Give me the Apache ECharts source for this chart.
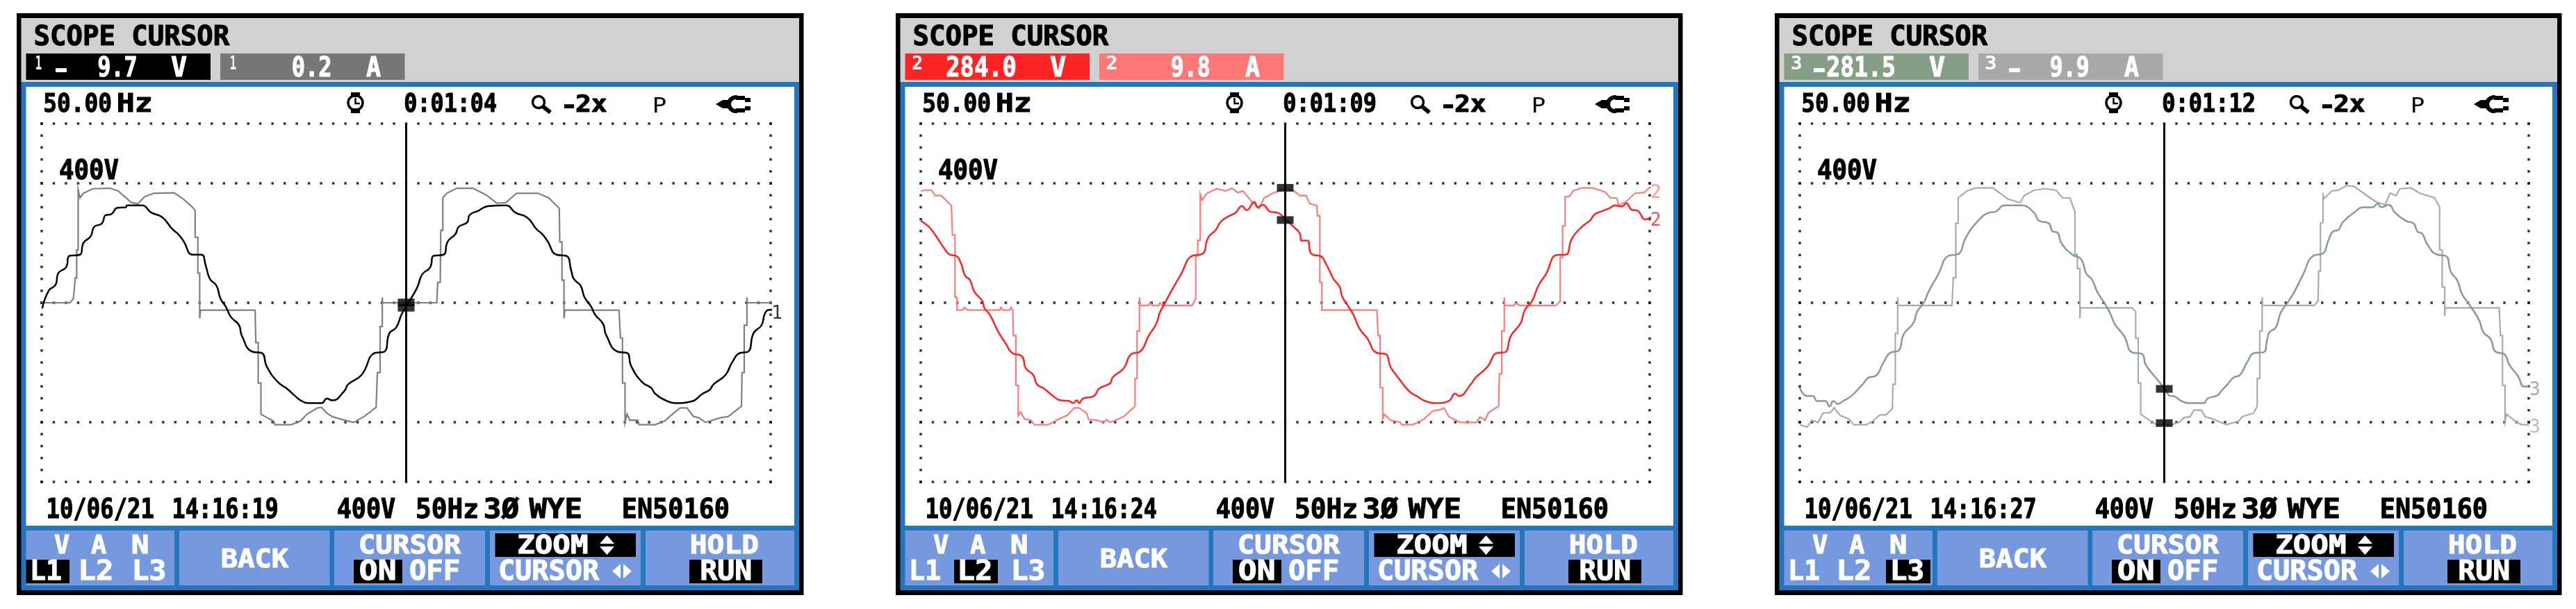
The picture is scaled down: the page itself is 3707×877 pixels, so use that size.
<!DOCTYPE html>
<html><head><meta charset="utf-8">
<style>html,body{margin:0;padding:0;background:#fff}#c{width:3707px;height:877px}</style>
<script src="https://cdn.jsdelivr.net/npm/echarts@6/dist/echarts.min.js"></script>
</head><body><div id="c"></div>
<script>
// time in ms, voltage in V, current in A
const l1Voltage=[[0.03,-19],[0.39,41],[0.76,60],[0.91,99],[1.34,119],[1.52,157],[2.10,161],[2.29,200],[2.69,223],[2.88,254],[3.31,266],[3.50,293],[3.82,297],[4.15,318],[4.63,320],[4.67,326],[5.50,326],[6.01,302],[6.60,287],[7.18,246],[7.47,231],[7.77,208],[8.28,161],[8.76,161],[9.01,122],[9.23,80],[9.59,57],[9.81,14],[10.10,-13],[10.39,-48],[10.83,-75],[10.98,-110],[11.56,-164],[12.07,-168],[12.36,-215],[12.95,-265],[13.46,-288],[13.90,-312],[14.26,-329],[14.70,-336],[15.36,-336],[15.65,-321],[15.94,-327],[16.60,-296],[16.82,-273],[17.55,-242],[18.28,-168],[18.79,-164],[19.08,-102],[19.45,-83],[19.74,-40],[20.03,-9],[20.59,49],[20.88,95],[21.32,119],[21.50,157],[22.05,161],[22.27,204],[22.71,231],[22.88,254],[23.36,270],[23.47,293],[23.95,308],[24.53,324],[25.48,326],[25.99,302],[26.65,285],[27.16,246],[27.45,231],[27.74,208],[28.25,161],[28.79,157],[29.06,107],[29.20,80],[29.57,57],[29.79,18],[30.15,-13],[30.37,-40],[30.81,-71],[30.96,-106],[31.61,-164],[32.12,-168],[32.34,-211],[32.93,-265],[33.44,-285],[33.66,-304],[34.24,-327],[34.75,-336],[35.63,-331],[36.28,-304],[36.65,-292],[36.87,-273],[37.52,-242],[37.89,-199],[38.33,-168],[38.76,-164],[39.06,-102],[39.50,-75],[39.71,-33],[40.01,-23],[40.41,-25]];
const l1Current=[[0,0],[1.56,0],[1.74,0.35],[1.84,2.09],[1.92,2.09],[1.92,4.42],[2.0,4.42],[2.0,9.46],[2.10,8.78],[2.29,9.17],[2.80,9.55],[3.75,9.59],[4.19,9.36],[4.92,8.39],[5.28,8.29],[5.65,8.88],[6.16,9.17],[7.26,9.21],[7.77,8.68],[8.28,8.0],[8.42,7.71],[8.42,5.48],[8.57,5.48],[8.57,2.48],[8.67,2.48],[8.67,-1.30],[8.72,-0.62],[11.71,-0.62],[11.75,-3.33],[11.88,-3.33],[11.88,-6.72],[12.03,-6.72],[12.03,-9.34],[12.73,-9.92],[12.80,-10.21],[13.68,-10.21],[14.19,-9.92],[14.55,-9.34],[15.14,-8.80],[15.36,-8.76],[15.65,-9.24],[15.94,-9.53],[16.38,-9.73],[17.11,-10.02],[17.69,-9.53],[18.35,-8.76],[18.42,-5.85],[18.57,-5.85],[18.57,-1.98],[18.69,-1.98],[18.69,0.45],[18.71,0],[21.68,0],[21.73,1.71],[21.87,1.71],[21.90,6.07],[22.01,6.07],[22.01,8.78],[22.23,9.17],[22.78,9.59],[23.66,9.59],[24.39,9.03],[24.97,8.33],[25.48,8.39],[26.06,9.17],[27.23,9.17],[27.82,8.78],[28.40,7.91],[28.43,5.10],[28.55,5.10],[28.55,1.90],[28.66,1.90],[28.66,-1.30],[28.71,-0.62],[31.68,-0.62],[31.76,-2.95],[31.87,-2.95],[31.87,-6.72],[32.01,-6.72],[32.01,-10.02],[32.12,-9.34],[32.27,-9.83],[32.71,-9.83],[32.78,-10.21],[33.66,-10.21],[34.17,-9.92],[34.60,-9.34],[35.04,-8.80],[35.41,-8.80],[35.77,-9.53],[36.06,-9.63],[36.43,-10.02],[37.23,-9.63],[37.67,-9.53],[38.40,-8.66],[38.43,-5.85],[38.55,-5.85],[38.55,-1.88],[38.70,-1.88],[38.70,0.45],[38.72,0],[40.37,0],[40.44,0.25],[40.44,-0.14]];
const l2Voltage=[[0,274],[0.25,264],[0.52,250],[0.93,215],[1.27,184],[1.61,161],[1.95,157],[2.22,130],[2.43,91],[2.70,76],[2.94,37],[3.38,6],[3.49,-17],[3.79,-40],[4.26,-98],[4.67,-137],[5.01,-168],[5.56,-180],[5.76,-219],[6.17,-242],[6.38,-273],[6.78,-288],[7.26,-312],[7.67,-327],[8.15,-329],[8.35,-336],[8.56,-327],[8.69,-336],[8.90,-321],[9.51,-312],[9.78,-288],[10.40,-269],[10.53,-250],[11.14,-219],[11.55,-172],[12.03,-164],[12.51,-110],[12.92,-71],[13.12,-33],[13.39,-2],[13.73,37],[14.28,95],[14.89,157],[15.44,163],[15.78,219],[16.18,243],[16.46,271],[16.87,289],[17.28,302],[17.62,324],[17.89,310],[18.30,338],[18.50,320],[18.77,328],[19.18,305],[19.56,302],[20.03,279],[20.47,254],[20.81,231],[20.88,208],[21.22,208],[21.38,169],[21.56,160],[21.90,157],[22.31,122],[22.65,80],[22.99,53],[23.12,22],[23.47,-13],[23.74,-40],[24.08,-87],[24.49,-118],[25.03,-168],[25.51,-172],[25.78,-215],[26.19,-250],[26.80,-296],[27.21,-312],[27.69,-329],[28.37,-336],[28.98,-329],[29.32,-304],[29.53,-312],[30.21,-271],[30.41,-253],[31.09,-215],[31.64,-168],[32.05,-166],[32.39,-110],[32.93,-67],[33.14,-25],[33.55,6],[33.89,57],[34.30,95],[34.91,160],[35.39,161],[35.73,215],[36.27,254],[36.75,277],[36.95,295],[37.43,308],[37.77,316],[38.11,326],[38.45,322],[38.72,333],[39.00,312],[39.34,308],[39.75,279],[40.09,287],[40.36,297]];
const l2Current=[[0,9.36],[0.25,9.42],[0.59,9.42],[0.79,8.97],[1.12,8.97],[1.68,8.14],[1.74,8.14],[1.74,5.68],[1.88,5.68],[1.88,0.45],[1.99,0.45],[1.99,-0.62],[2.29,-0.62],[2.40,-0.39],[2.56,-0.62],[4.33,-0.62],[4.40,-0.39],[4.50,-0.62],[4.88,-0.62],[4.95,-0.39],[5.05,-0.62],[5.08,-2.75],[5.22,-2.75],[5.22,-6.92],[5.35,-6.92],[5.35,-9.44],[5.49,-9.15],[5.69,-9.73],[6.04,-9.83],[6.24,-10.21],[6.99,-10.21],[7.60,-9.73],[8.08,-9.38],[8.42,-8.80],[8.69,-8.80],[9.10,-9.24],[9.21,-9.77],[9.65,-9.83],[10.05,-10.02],[10.19,-9.77],[10.40,-10.02],[11.14,-9.53],[11.76,-8.66],[11.76,-6.34],[11.87,-6.34],[11.87,-2.36],[12.00,-2.36],[12.00,0.45],[12.03,-0.23],[12.51,-0.23],[12.58,0],[12.72,-0.23],[13.06,-0.23],[13.12,0],[13.26,-0.23],[14.89,-0.23],[15.09,0.35],[15.09,3.93],[15.20,3.93],[15.20,5.23],[15.34,5.23],[15.34,9.07],[15.44,8.59],[15.71,9.17],[16.25,9.55],[16.73,9.36],[17.07,9.59],[17.41,9.22],[17.68,9.36],[18.09,8.59],[18.57,7.91],[18.84,8.78],[19.32,9.17],[20.03,9.55],[20.48,9.36],[20.81,8.97],[21.15,8.97],[21.35,8.29],[21.74,8.14],[21.76,7.29],[21.90,7.29],[21.90,1.71],[22.01,1.71],[22.01,-0.62],[25.03,-0.62],[25.10,-2.75],[25.21,-2.75],[25.21,-7.11],[25.35,-7.11],[25.35,-9.69],[25.44,-9.34],[25.78,-9.83],[26.33,-10.02],[26.39,-10.21],[27.01,-10.21],[27.62,-9.73],[28.10,-9.05],[28.51,-8.95],[28.71,-8.80],[28.98,-9.53],[29.60,-10.02],[30.48,-10.02],[30.69,-9.57],[30.96,-9.83],[31.16,-9.19],[31.71,-8.66],[31.75,-5.95],[31.88,-5.95],[31.88,-2.36],[32.02,-2.36],[32.02,0.45],[32.05,-0.23],[32.53,-0.23],[32.66,-0.04],[32.87,-0.23],[34.84,-0.23],[35.09,0.12],[35.09,3.80],[35.22,3.80],[35.22,6.45],[35.36,6.45],[35.36,8.88],[35.59,8.88],[35.79,9.36],[36.27,9.61],[36.88,9.61],[37.57,9.26],[37.84,8.78],[38.18,8.78],[38.32,8.14],[38.72,8.49],[39.20,9.17],[39.68,9.22],[40.02,9.65],[40.43,9.75]];
const l3Voltage=[[0,-284],[0.38,-312],[0.72,-312],[0.95,-329],[1.40,-329],[1.63,-347],[1.85,-329],[2.08,-339],[2.43,-327],[2.83,-312],[3.45,-273],[3.79,-250],[4.13,-246],[4.60,-199],[4.95,-168],[5.42,-160],[5.70,-106],[6.24,-67],[6.44,-29],[6.78,-2],[7.13,45],[7.60,95],[8.15,157],[8.69,163],[9.10,217],[9.72,270],[10.40,302],[10.74,305],[11.22,326],[12.16,326],[12.85,302],[13.12,275],[13.66,266],[13.87,239],[14.14,235],[14.35,200],[14.96,161],[15.44,146],[15.71,99],[16.05,76],[16.32,37],[16.80,-9],[17.07,-40],[17.28,-71],[17.82,-114],[18.23,-166],[18.77,-171],[18.98,-207],[19.52,-250],[20.03,-288],[20.34,-312],[20.47,-312],[20.88,-327],[21.35,-336],[22.17,-336],[22.38,-321],[22.92,-310],[23.12,-296],[23.47,-273],[23.81,-250],[24.15,-242],[24.55,-199],[24.96,-168],[25.44,-166],[25.65,-122],[25.78,-98],[26.12,-83],[26.39,-33],[26.74,-2],[27.14,37],[27.62,95],[28.17,157],[28.71,165],[28.98,204],[29.26,239],[29.53,243],[29.80,270],[30.41,302],[30.96,320],[31.44,320],[31.71,332],[31.91,320],[32.32,328],[32.66,302],[33.27,274],[33.68,266],[33.89,239],[34.16,231],[34.43,196],[34.98,161],[35.45,157],[35.73,103],[36.07,76],[36.34,29],[36.82,-13],[37.29,-60],[37.50,-98],[37.91,-122],[38.18,-164],[38.66,-172],[38.93,-207],[39.41,-246],[39.75,-281],[40.02,-281]];
const l3Current=[[0,-10.21],[0.41,-10.41],[0.65,-9.83],[1.0,-10.02],[1.27,-9.24],[1.68,-9.19],[1.88,-8.80],[2.22,-9.44],[2.70,-9.73],[2.97,-10.21],[3.65,-10.21],[3.99,-9.92],[4.40,-9.38],[4.74,-9.38],[5.08,-8.86],[5.11,-6.82],[5.24,-6.82],[5.24,-2.56],[5.37,-2.56],[5.37,0.45],[5.39,-0.23],[8.35,-0.23],[8.42,2.09],[8.56,2.09],[8.56,6.65],[8.69,6.65],[8.69,8.78],[9.17,9.36],[9.65,9.61],[10.60,9.61],[11.42,8.68],[12.10,8.39],[12.31,8.97],[12.85,9.42],[13.46,9.55],[14.07,9.42],[14.41,8.78],[14.82,8.78],[14.96,8.20],[15.10,7.62],[15.10,4.03],[15.23,4.03],[15.23,2.87],[15.37,2.87],[15.37,-1.30],[15.40,-0.43],[18.23,-0.43],[18.43,-0.72],[18.43,-2.95],[18.57,-2.95],[18.57,-6.72],[18.71,-6.72],[18.71,-9.34],[19.18,-9.83],[19.59,-10.21],[20.40,-10.21],[20.81,-10.02],[21.08,-9.63],[21.42,-9.53],[21.63,-8.99],[22.03,-8.99],[22.24,-9.53],[22.65,-9.73],[23.40,-10.21],[24.08,-9.92],[24.28,-9.53],[24.90,-9.24],[25.10,-8.66],[25.10,-6.34],[25.24,-6.34],[25.24,-2.36],[25.37,-2.36],[25.37,0.45],[25.40,-0.23],[28.23,-0.23],[28.44,0.16],[28.47,2.67],[28.57,2.67],[28.57,6.65],[28.71,6.74],[28.71,9.22],[28.74,8.68],[29.19,9.36],[29.53,9.42],[30.00,9.81],[30.41,9.75],[31.03,9.07],[31.57,8.49],[32.12,8.20],[32.39,9.17],[32.73,8.97],[32.93,9.55],[33.55,9.61],[34.02,9.17],[34.84,8.78],[35.11,8.00],[35.11,4.42],[35.25,4.42],[35.25,1.32],[35.39,1.32],[35.39,-1.10],[35.41,-0.43],[38.38,-0.43],[38.45,-2.75],[38.56,-2.75],[38.56,-6.92],[38.70,-6.92],[38.70,-9.92],[38.79,-9.34],[39.34,-10.02],[39.61,-10.21],[40.02,-10.21]];

const phaseNames=['1','2','3'];
const cursorVolts=[-9.7,284.0,-281.5];
const cursorAmps=[0.2,9.8,-9.9];
const voltStrings=['9.7','284.0','281.5'];
const ampStrings=['0.2','9.8','9.9'];
const elapsed=['0:01:04','0:01:09','0:01:12'];
const clock=['14:16:19','14:16:24','14:16:27'];
const cursorTime=20;
const endVoltLabel=[[40.35,-37],[40.34,275],[40.34,-293]];
const endAmpLabel=[[40.44,0.1],[40.34,9.2],[40.34,-10.5]];
const gridTimes=Array.from({length:61},(_,i)=>i*2/3);
const gridLevels=[600,400,0,-400,-600];
const sideLevels=Array.from({length:31},(_,i)=>-600+i*40);

const volts=[l1Voltage,l2Voltage,l3Voltage], amps=[l1Current,l2Current,l3Current];
const offsets=[0,1265,2530];
const voltColor=['#000000','#ff2222','#869e88'];
const ampColor=['#808080','#ff7a7a','#aaaaaa'];
const boxV=['#000000','#ff2424','#869e88'];
const boxA=['#777777','#ff7878','#a8a8a8'];
const BLUE='#2376bb',BTN='#7698de',GRAY='#d1d1d1';
const FONT='"DejaVu Sans Mono"';

const mctx=document.createElement('canvas').getContext('2d');
function T(off,str,x0,x1,y0,y1,fill,weight){
  const w8=weight||'bold', fs=(y1-y0)/0.729, font=w8+' '+fs+'px '+FONT;
  mctx.font=font;
  const m=mctx.measureText(str);
  const ink=m.actualBoundingBoxLeft+m.actualBoundingBoxRight;
  const sx=(x1-x0)/ink;
  const st=weight?{}:{stroke:fill||'#000',lineWidth:1.1};
  return {type:'text',x:off+x0+m.actualBoundingBoxLeft*sx,y:(y0+y1)/2+fs*0.018+1.5,scaleX:sx,z:5,silent:true,
    style:Object.assign({text:str,font:font,fill:fill||'#000',align:'left',verticalAlign:'middle',textAlign:'left',textVerticalAlign:'middle'},st)};
}
function minus(off,x0,x1,yc,fill){
  const fs=40,font='bold '+fs+'px '+FONT;
  mctx.font=font;
  const m=mctx.measureText('-'),ink=m.actualBoundingBoxLeft+m.actualBoundingBoxRight,sx=(x1-x0)/ink;
  return {type:'text',x:off+x0+m.actualBoundingBoxLeft*sx,y:yc-fs*0.036,scaleX:sx,z:5,silent:true,
    style:{text:'-',font:font,fill:fill,align:'left',verticalAlign:'middle',textAlign:'left',textVerticalAlign:'middle'}};
}
function R(off,x0,y0,x1,y1,fill,z){return {type:'rect',z:z||1,silent:true,shape:{x:off+x0,y:y0,width:x1-x0,height:y1-y0},style:{fill:fill}};}
function P(off,pts,fill){return {type:'polygon',z:5,silent:true,shape:{points:pts.map(p=>[p[0]+off,p[1]])},style:{fill:fill}};}

const graphics=[], grids=[], xAxes=[], yAxes=[], series=[];
offsets.forEach((o,i)=>{
  graphics.push(R(o,24,19,1156.5,857,'#000',0),R(o,30.5,26,1150,118,GRAY),R(o,30.5,118,1150,850,BLUE),R(o,37.5,125,1143,757,'#fff',2));
  [[37.5,251],[258,474.5],[481,698],[705,922],[929,1143]].forEach(b=>graphics.push(R(o,b[0],764,b[1],843,BTN,2)));
  graphics.push(R(o,37.5,77,303,115,boxV[i],2),R(o,317,77,582.5,115,boxA[i],2));
  graphics.push(T(o,'SCOPE CURSOR',50.6,331,39,67));
  // readout boxes
  const nx=i===0?[52,60]:[48,62], nx2=i===0?[332,340]:[327,342];
  graphics.push(T(o,phaseNames[i],nx[0],nx[1],81,101,'#fff','bold'),T(o,phaseNames[i],nx2[0],nx2[1],81,101,'#fff','bold'));
  if(cursorVolts[i]<0) graphics.push(minus(o,79,97,104.5,'#fff'));
  if(cursorAmps[i]<0) graphics.push(minus(o,360,378,104.5,'#fff'));
  const vx0=[142,98,100][i];
  graphics.push(T(o,voltStrings[i],vx0,196,84,112,'#fff'),T(o,'V',247,269,84,112,'#fff'));
  graphics.push(T(o,ampStrings[i],421.5,475,84,112,'#fff'),T(o,'A',527,548,84,112,'#fff'));
  // header line
  graphics.push(T(o,'50.00',64,160,136,163),T(o,'Hz',170,217,136,163),T(o,elapsed[i],583,714,136,163));
  graphics.push(R(o,505,133,518,140,'#000',5),R(o,505,156,518,163,'#000',5),
    {type:'circle',z:5,silent:true,shape:{cx:o+511.5,cy:148,r:10.5},style:{fill:'none',stroke:'#000',lineWidth:3.5}},
    {type:'polyline',z:5,silent:true,shape:{points:[[o+511.5,141],[o+511.5,149],[o+518,149]]},style:{fill:'none',stroke:'#000',lineWidth:2.5}});
  graphics.push({type:'circle',z:5,silent:true,shape:{cx:o+775,cy:147,r:8.5},style:{fill:'none',stroke:'#000',lineWidth:3.5}},
    {type:'line',z:5,silent:true,shape:{x1:o+781,y1:153,x2:o+792,y2:162},style:{stroke:'#000',lineWidth:6}});
  graphics.push(minus(o,811,827,156,'#000'),T(o,'2x',829,873,137,162));
  graphics.push(T(o,'P',941,958,141,163,'#000','normal'));
  graphics.push(P(o,[[1030,150],[1040,144],[1048,144],[1048,156],[1040,156]],'#000'),
    {type:'arc',z:5,silent:true,shape:{cx:o+1059,cy:150,r:10,startAngle:Math.PI*0.45,endAngle:Math.PI*1.55,clockwise:true},style:{fill:'none',stroke:'#000',lineWidth:6}},
    R(o,1059,138,1072,144,'#000',5),R(o,1059,156,1072,162,'#000',5),R(o,1072,141,1080,147,'#000',5),R(o,1072,153,1080,159,'#000',5));
  graphics.push(T(o,'400V',86,171,232,260));
  // footer line
  graphics.push(T(o,'10/06/21',69,221,720,748),T(o,clock[i],250,399,720,748),T(o,'400V',485.6,569,720,748),T(o,'50Hz',600,687,720,748),T(o,'3Ø',698,747,720,748),T(o,'WYE',761.6,835.5,720,748),T(o,'EN50160',897.6,1048,720,748));
  // buttons
  const lBox=[[37.5,100],[108,171],[184,248]][i];
  graphics.push(R(o,lBox[0],806,lBox[1],840,'#000',3));
  graphics.push(T(o,'V',79,100,772,799,'#fff'),T(o,'A',131,153,772,799,'#fff'),T(o,'N',191,213,772,799,'#fff'));
  graphics.push(T(o,'L1',47,88,809,837,'#fff'),T(o,'L2',117,160,809,837,'#fff'),T(o,'L3',194,237,809,837,'#fff'));
  graphics.push(T(o,'BACK',320,416,792,819,'#fff'));
  graphics.push(T(o,'CURSOR',518,664,772,799,'#fff'),R(o,509,806,579,840,'#000',3),T(o,'ON',518,568,809,837,'#fff'),T(o,'OFF',590,660,809,837,'#fff'));
  graphics.push(R(o,712.5,768,915,802,'#000',3),T(o,'ZOOM',746.5,845,772,799,'#fff'));
  graphics.push(P(o,[[873.5,771],[884,783],[863,783]],'#fff'),P(o,[[863,787],[884,787],[873.5,799]],'#fff'));
  graphics.push(T(o,'CURSOR',719,863,809,837,'#fff'),P(o,[[893,812],[893,833],[881,822.5]],'#fff'),P(o,[[897,812],[909,822.5],[897,833]],'#fff'));
  graphics.push(T(o,'HOLD',995,1090.6,772,799,'#fff'),R(o,992,806,1097,840,'#000',3),T(o,'RUN',1009.5,1080,809,837,'#fff'));

  grids.push({left:o+60,top:178,width:1049,height:516,containLabel:false,show:false});
  xAxes.push({type:'value',gridIndex:i,min:0,max:40,show:false});
  yAxes.push({type:'value',gridIndex:i,min:-600,max:600,show:false},{type:'value',gridIndex:i,min:-15,max:15,show:false});

  const dots=[];
  gridLevels.forEach(l=>gridTimes.forEach(t=>dots.push([t,l])));
  sideLevels.forEach(l=>{dots.push([0,l]);dots.push([40,l]);});
  const ax={xAxisIndex:i,animation:false,silent:true};
  series.push({...ax,type:'scatter',yAxisIndex:2*i,data:dots,symbol:'rect',symbolSize:3.5,itemStyle:{color:'#000'},z:2,clip:false});
  series.push({...ax,type:'line',yAxisIndex:2*i+1,data:amps[i],symbol:'none',clip:false,z:3,lineStyle:{color:ampColor[i],width:2.2,join:'miter'}});
  series.push({...ax,type:'line',yAxisIndex:2*i,data:volts[i],symbol:'none',clip:false,z:4,smooth:0.5,lineStyle:{color:voltColor[i],width:2.5}});
  series.push({...ax,type:'line',yAxisIndex:2*i,data:[[cursorTime,600],[cursorTime,-600]],symbol:'none',z:5,lineStyle:{color:'#000',width:3}});
  series.push({...ax,type:'scatter',yAxisIndex:2*i,data:[[cursorTime,cursorVolts[i]]],symbol:'rect',symbolSize:[24,11],symbolOffset:[0,3],itemStyle:{color:'#000'},z:6});
  series.push({...ax,type:'scatter',yAxisIndex:2*i+1,data:[[cursorTime,cursorAmps[i]]],symbol:'rect',symbolSize:[24,11],symbolOffset:[0,3],itemStyle:{color:'#000'},z:6});
  const lab=(c,w)=>({show:true,formatter:phaseNames[i],position:'inside',color:c,fontFamily:FONT,fontWeight:w,fontSize:26});
  series.push({...ax,type:'scatter',yAxisIndex:2*i,data:[endVoltLabel[i]],symbolSize:1,itemStyle:{color:'rgba(0,0,0,0)'},clip:false,z:7,label:lab(voltColor[i],'normal')});
  if(i>0) series.push({...ax,type:'scatter',yAxisIndex:2*i+1,data:[endAmpLabel[i]],symbolSize:1,itemStyle:{color:'rgba(0,0,0,0)'},clip:false,z:7,label:lab(ampColor[i],'normal')});
});

const chart=echarts.init(document.getElementById('c'),null,{renderer:'canvas',width:3707,height:877});
chart.setOption({animation:false,backgroundColor:'#fff',tooltip:{show:false},grid:grids,xAxis:xAxes,yAxis:yAxes,series:series,graphic:{elements:graphics}});
</script></body></html>
